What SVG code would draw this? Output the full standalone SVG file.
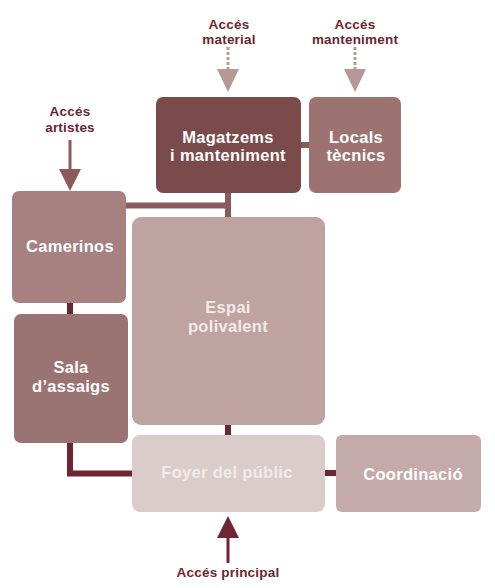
<svg xmlns="http://www.w3.org/2000/svg" width="495" height="588" viewBox="0 0 495 588">
  <style>
    .node text { font-family: "Liberation Sans", Arial, sans-serif; font-weight: bold; font-size: 16.5px; letter-spacing: 0.3px; text-anchor: middle; fill: #ffffff; }
    .node.light text { fill: #f3eaea; }
    .lbl { font-family: "Liberation Sans", Arial, sans-serif; font-weight: bold; font-size: 13.5px; letter-spacing: 0.2px; text-anchor: middle; fill: #6b2630; }
    .link-mid { stroke: #8a5b5c; stroke-width: 6; fill: none; }
    .link-dark { stroke: #6e2731; stroke-width: 6; fill: none; }
    .dotted { stroke: #b69896; stroke-width: 3; stroke-dasharray: 3 2; fill: none; }
  </style>

  <!-- connectors -->
  <g id="connectors">
    <!-- Magatzems / Locals stub -->
    <line class="link-mid" x1="300" y1="145" x2="310" y2="145"/>
    <!-- Camerinos to service spine -->
    <polyline class="link-mid" points="125,205.5 228,205.5"/>
    <line class="link-mid" x1="228" y1="192" x2="228" y2="218"/>
    <!-- Camerinos / Sala -->
    <line class="link-dark" x1="70" y1="302" x2="70" y2="315"/>
    <!-- Sala to Foyer -->
    <polyline class="link-dark" points="70,442 70,473.5 133,473.5"/>
    <!-- Espai / Foyer -->
    <line class="link-dark" x1="228" y1="423" x2="228" y2="436"/>
    <!-- Foyer / Coordinació -->
    <line class="link-dark" x1="324" y1="473" x2="337" y2="473"/>

    <!-- access arrows -->
    <line class="dotted" x1="228" y1="47" x2="228" y2="69"/>
    <polygon points="217,69 239,69 228,92" fill="#b69896"/>
    <line class="dotted" x1="355" y1="47" x2="355" y2="69"/>
    <polygon points="344,69 366,69 355,92" fill="#b69896"/>

    <line x1="70" y1="140" x2="70" y2="170" stroke="#8a5b5c" stroke-width="3"/>
    <polygon points="59,169 81,169 70,191" fill="#8a5b5c"/>

    <line x1="228" y1="536" x2="228" y2="563" stroke="#6e2731" stroke-width="3"/>
    <polygon points="217,538 239,538 228,516" fill="#6e2731"/>
  </g>

  <!-- access labels -->
  <text class="lbl" x="229" y="29">Accés</text>
  <text class="lbl" x="229" y="44">material</text>
  <text class="lbl" x="355" y="29">Accés</text>
  <text class="lbl" x="355" y="44">manteniment</text>
  <text class="lbl" x="70" y="116">Accés</text>
  <text class="lbl" x="70" y="132">artistes</text>
  <text class="lbl" x="228" y="577">Accés principal</text>

  <!-- nodes -->
  <g id="magatzems" class="node">
    <rect x="156" y="97" width="145" height="96" rx="7" fill="#7b4a4b"/>
    <text x="228" y="143">Magatzems</text>
    <text x="228" y="161">i manteniment</text>
  </g>
  <g id="locals" class="node">
    <rect x="309" y="97" width="92" height="96" rx="7" fill="#9d7371"/>
    <text x="356" y="143">Locals</text>
    <text x="356" y="161">tècnics</text>
  </g>
  <g id="camerinos" class="node">
    <rect x="12" y="191" width="114" height="112" rx="7" fill="#a6817f"/>
    <text x="70" y="252">Camerinos</text>
  </g>
  <g id="espai" class="node light">
    <rect x="132" y="217" width="193" height="208" rx="9" fill="#bfa3a1"/>
    <text x="228" y="313">Espai</text>
    <text x="228" y="332">polivalent</text>
  </g>
  <g id="sala" class="node">
    <rect x="14" y="314" width="114" height="129" rx="7" fill="#9a7472"/>
    <text x="71" y="373">Sala</text>
    <text x="71" y="392">d’assaigs</text>
  </g>
  <g id="foyer" class="node light">
    <rect x="132" y="435" width="193" height="77" rx="8" fill="#dacccb"/>
    <text x="227" y="478">Foyer del públic</text>
  </g>
  <g id="coordinacio" class="node">
    <rect x="336" y="435" width="145" height="77" rx="6" fill="#c4abaa"/>
    <text x="413" y="480">Coordinació</text>
  </g>
</svg>
